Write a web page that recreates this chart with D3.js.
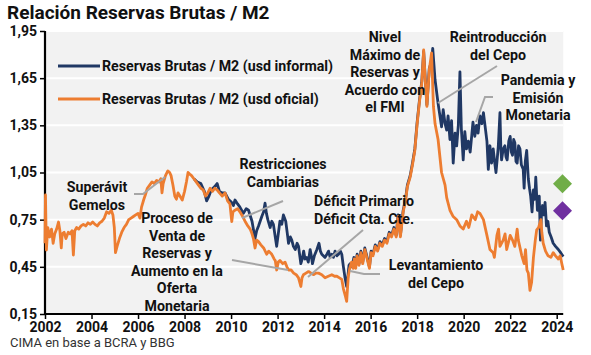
<!DOCTYPE html>
<html><head><meta charset="utf-8">
<script src="https://cdn.jsdelivr.net/npm/d3@7"></script>
<style>body{margin:0;background:#fff}svg{display:block}text{font-family:Roboto,"Liberation Sans",sans-serif}</style>
</head><body><svg id="c" width="591" height="355"></svg>
<script>
const yTicks = [0.15, 0.45, 0.75, 1.05, 1.35, 1.65, 1.95];
const xTicks = [2002, 2004, 2006, 2008, 2010, 2012, 2014, 2016, 2018, 2020, 2022, 2024];
const seriesNames = ["Reservas Brutas / M2 (usd informal)", "Reservas Brutas / M2 (usd oficial)"];

const offX = [2002.00,2002.02,2002.06,2002.12,2002.20,2002.28,2002.35,2002.42,2002.50,2002.58,2002.64,2002.70,2002.74,2002.82,2002.90,2003.00,2003.08,2003.16,2003.22,2003.28,2003.36,2003.45,2003.55,2003.65,2003.75,2003.85,2003.95,2004.05,2004.15,2004.25,2004.35,2004.45,2004.55,2004.65,2004.75,2004.85,2004.92,2004.98,2005.03,2005.10,2005.20,2005.30,2005.40,2005.50,2005.60,2005.70,2005.80,2005.90,2006.00,2006.08,2006.15,2006.25,2006.32,2006.40,2006.50,2006.60,2006.70,2006.80,2006.90,2006.98,2007.03,2007.08,2007.18,2007.28,2007.36,2007.42,2007.50,2007.58,2007.65,2007.72,2007.80,2007.90,2008.00,2008.08,2008.15,2008.22,2008.30,2008.40,2008.50,2008.60,2008.70,2008.80,2008.90,2009.00,2009.10,2009.20,2009.30,2009.40,
  2009.50,2009.62,2009.74,2009.85,2009.95,2010.03,2010.08,2010.17,2010.28,2010.38,2010.50,2010.60,2010.72,2010.82,2010.90,2010.96,2011.03,2011.10,2011.18,2011.28,2011.40,2011.53,2011.62,2011.75,2011.85,2011.90,2011.96,2012.03,2012.10,2012.22,2012.32,2012.40,2012.47,2012.58,2012.69,2012.80,2012.90,2013.00,2013.05,2013.11,2013.22,2013.33,2013.44,2013.54,2013.65,2013.76,2013.90,2014.04,2014.18,2014.33,2014.45,2014.55,2014.66,2014.76,2014.83,2014.92,2014.97,2015.04,2015.10,2015.18,
  2015.25,2015.30,2015.36,2015.42,2015.50,2015.58,2015.66,2015.75,2015.85,2015.95,2016.02,2016.10,2016.20,2016.30,2016.40,2016.50,2016.60,2016.70,2016.80,2016.90,2017.00,2017.10,2017.18,2017.28,2017.40,2017.50,2017.58,2017.70,2017.80,2017.90,2018.00,2018.10,2018.20,2018.28,2018.34,2018.42,2018.52,2018.62,
  2018.70,2018.77,2018.90,2019.05,2019.20,2019.27,2019.41,2019.55,2019.70,2019.84,2019.98,2020.12,2020.22,2020.35,2020.50,2020.60,2020.70,2020.85,2021.00,2021.13,2021.27,2021.32,2021.43,2021.50,2021.56,2021.70,2021.78,2021.85,2022.00,2022.10,2022.20,2022.30,2022.35,2022.50,2022.60,2022.66,2022.72,2022.78,2022.85,2022.92,2023.00,2023.08,2023.14,2023.22,2023.32,2023.36,2023.42,2023.52,2023.63,2023.75,2023.85,2023.95,2024.07,2024.15,2024.22,2024.28];
const offY = [0.60,0.907,0.557,0.70,0.64,0.69,0.60,0.66,0.69,0.735,0.68,0.57,0.66,0.67,0.63,0.67,0.66,0.68,0.525,0.68,0.70,0.69,0.71,0.72,0.71,0.73,0.72,0.735,0.72,0.71,0.73,0.74,0.76,0.80,0.79,0.81,0.78,0.70,0.54,0.58,0.63,0.67,0.70,0.72,0.75,0.76,0.77,0.78,0.79,0.76,0.83,0.88,0.91,0.95,0.97,0.99,0.98,1.00,0.99,1.01,0.92,0.98,1.03,1.06,1.05,1.03,0.97,0.90,0.88,0.92,0.90,0.875,0.93,0.99,1.05,1.04,1.03,1.01,0.99,0.97,0.95,0.94,0.90,0.92,0.95,0.93,0.95,0.94,
  0.92,0.90,0.92,0.87,0.85,0.737,0.80,0.81,0.82,0.80,0.77,0.74,0.71,0.69,0.66,0.63,0.57,0.62,0.61,0.59,0.57,0.53,0.55,0.53,0.50,0.49,0.43,0.48,0.49,0.47,0.48,0.45,0.43,0.43,0.41,0.40,0.38,0.325,0.38,0.40,0.41,0.42,0.41,0.40,0.41,0.41,0.40,0.38,0.39,0.40,0.39,0.39,0.38,0.37,0.31,0.26,0.23,0.39,0.44,0.48,
  0.44,0.50,0.44,0.52,0.46,0.54,0.47,0.56,0.50,0.44,0.54,0.52,0.58,0.55,0.60,0.58,0.62,0.60,0.66,0.64,0.69,0.64,0.77,0.64,0.80,0.87,0.96,1.02,1.10,1.19,1.36,1.50,1.62,1.83,1.66,1.47,1.70,1.81,
  1.47,1.36,1.26,1.05,0.97,0.89,0.81,0.77,0.75,0.71,0.69,0.74,0.70,0.78,0.75,0.80,0.79,0.75,0.65,0.56,0.54,0.51,0.65,0.69,0.58,0.62,0.66,0.56,0.65,0.62,0.58,0.69,0.62,0.52,0.47,0.56,0.43,0.41,0.30,0.35,0.51,0.62,0.685,0.70,0.75,0.67,0.60,0.55,0.52,0.51,0.54,0.52,0.50,0.52,0.47,0.43];

const infX = [2008.40,2008.55,2008.70,2008.85,2008.95,2009.05,2009.15,2009.30,2009.40,
  2009.50,2009.62,2009.74,2009.88,2010.02,2010.10,2010.17,2010.28,2010.38,2010.53,2010.65,2010.75,2010.90,2011.03,2011.10,2011.18,2011.32,2011.40,2011.46,2011.52,2011.58,2011.68,2011.75,2011.82,2011.90,2011.96,2012.03,2012.10,2012.18,2012.25,2012.35,2012.42,2012.47,2012.55,2012.61,2012.68,2012.76,2012.84,2012.90,2013.00,2013.06,2013.12,2013.18,2013.25,2013.32,2013.40,2013.45,2013.50,2013.58,2013.69,2013.78,2013.84,2013.90,2014.04,2014.12,2014.19,2014.26,2014.33,2014.40,2014.47,2014.55,2014.62,2014.70,2014.76,2014.83,2014.90,2014.97,2015.03,2015.07,2015.12,
  2015.20,2015.28,2015.35,2015.42,2015.50,2015.58,2015.66,2015.75,2015.85,2015.95,2016.02,2016.10,2016.20,2016.30,2016.40,2016.50,2016.60,2016.70,2016.80,2016.90,2017.00,2017.10,2017.18,2017.28,2017.40,2017.50,2017.58,2017.70,2017.80,2017.90,2018.00,2018.10,2018.20,2018.28,2018.34,2018.42,
  2018.52,2018.62,2018.67,2018.77,2018.90,2019.05,2019.12,2019.20,2019.27,2019.33,2019.41,2019.48,2019.55,2019.63,2019.70,2019.77,2019.84,2019.90,2019.98,2020.05,2020.12,2020.20,2020.28,2020.35,2020.40,2020.48,2020.55,2020.62,2020.70,2020.78,2020.85,2020.90,2021.00,2021.06,2021.13,2021.20,2021.27,2021.33,2021.39,2021.45,2021.49,2021.56,2021.60,2021.63,2021.70,2021.77,2021.82,2021.87,2021.94,2022.00,2022.05,2022.10,2022.15,2022.20,2022.25,2022.30,2022.36,2022.42,2022.48,2022.56,2022.60,2022.65,2022.71,2022.78,2022.83,2022.88,2022.94,2023.00,2023.06,2023.10,2023.17,2023.25,2023.30,2023.35,2023.39,2023.45,2023.50,2023.56,2023.62,2023.68,2023.76,2023.85,2023.95,2024.07,2024.17,2024.28];
const infY = [1.01,0.99,0.98,0.93,0.87,0.90,0.94,0.96,0.98,
  0.93,0.92,0.92,0.88,0.86,0.84,0.875,0.85,0.83,0.79,0.82,0.81,0.74,0.63,0.68,0.71,0.77,0.80,0.855,0.79,0.75,0.70,0.74,0.72,0.64,0.58,0.66,0.74,0.72,0.78,0.74,0.66,0.60,0.64,0.62,0.58,0.56,0.60,0.58,0.47,0.50,0.55,0.50,0.51,0.48,0.56,0.52,0.47,0.52,0.56,0.60,0.55,0.53,0.51,0.53,0.55,0.51,0.53,0.51,0.55,0.52,0.53,0.55,0.53,0.45,0.38,0.325,0.40,0.46,0.47,
  0.45,0.51,0.45,0.53,0.47,0.55,0.48,0.57,0.51,0.45,0.55,0.53,0.59,0.56,0.61,0.59,0.63,0.61,0.67,0.65,0.70,0.65,0.78,0.65,0.81,0.88,0.97,1.03,1.11,1.20,1.37,1.51,1.63,1.82,1.67,1.48,
  1.71,1.76,1.84,1.64,1.49,1.34,1.45,1.36,1.32,1.41,1.26,1.38,1.11,1.30,1.22,1.35,1.69,1.33,1.13,1.31,1.20,1.25,1.18,1.29,1.37,1.28,1.35,1.30,1.41,1.36,1.43,1.37,1.25,1.07,1.22,1.11,1.20,1.12,1.05,1.15,1.22,1.43,1.20,1.13,1.20,1.22,1.15,1.13,1.25,1.28,1.18,1.16,1.26,1.24,1.12,1.11,1.22,1.20,1.10,1.07,0.95,1.12,1.19,1.01,0.95,0.90,0.80,0.94,0.88,1.02,0.81,0.90,0.62,0.80,0.84,0.78,0.86,0.71,0.74,0.67,0.64,0.60,0.58,0.56,0.54,0.515];

const markerX = [2024.25, 2024.25];
const markerY = [0.979, 0.807];
const markerColors = ["#70ad47", "#7030a0"];

const svg = d3.select("#c");
const x = d3.scaleLinear().domain([2002, 2024]).range([45, 556.7]);
const y = d3.scaleLinear().domain([0.15, 1.95]).range([314, 31]);
const xEnd = x(2024.28);

svg.append("rect").attr("x", 45).attr("y", y(1.95)).attr("width", xEnd - 45).attr("height", y(0.15) - y(1.95)).attr("fill", "#f2f2f2");
svg.append("g").selectAll("line").data(yTicks.slice(1)).join("line")
  .attr("x1", 45).attr("x2", xEnd).attr("y1", d => y(d)).attr("y2", d => y(d))
  .attr("stroke", "#fff").attr("stroke-width", 2);

const fmt = d => d.toFixed(2).replace(".", ",");
const yAxis = svg.append("g").attr("transform", "translate(45,0)")
  .call(d3.axisLeft(y).tickValues(yTicks).tickFormat(fmt).tickSize(5).tickPadding(3));
const xAxis = svg.append("g").attr("transform", "translate(0,314)")
  .call(d3.axisBottom(x).tickValues(xTicks).tickFormat(d3.format("d")).tickSize(5).tickPadding(3));
[yAxis, xAxis].forEach(g => {
  g.select(".domain").attr("stroke", "#000").attr("stroke-width", 2.2);
  g.selectAll(".tick line").attr("stroke", "#000").attr("stroke-width", 1.5);
  g.selectAll("text").attr("fill", "#111").attr("font-size", 14).attr("font-weight", "bold").attr("font-family", "Roboto");
});
xAxis.select(".domain").attr("d", `M45,0H${xEnd}`);
yAxis.select(".domain").attr("d", `M0,${y(1.95)}V${y(0.15)}`);

const line = d3.line().x(d => x(d[0])).y(d => y(d[1]));
const infData = d3.zip(infX, infY);
const offData = d3.zip(offX, offY);
svg.append("path").datum(infData).attr("d", line).attr("fill", "none").attr("stroke", "#203864").attr("stroke-width", 2.8).attr("stroke-linejoin", "round");
svg.append("path").datum(offData).attr("d", line).attr("fill", "none").attr("stroke", "#ed7d31").attr("stroke-width", 2.8).attr("stroke-linejoin", "round");

svg.append("g").selectAll("path").data(d3.zip(markerX, markerY, markerColors)).join("path")
  .attr("d", d3.symbol(d3.symbolDiamond2, 230))
  .attr("transform", d => `translate(${x(d[0])},${y(d[1])})`).attr("fill", d => d[2]);

// legend
const legColors = ["#203864", "#ed7d31"];
const leg = svg.append("g");
seriesNames.forEach((n, i) => {
  const ly = 66 + i * 33;
  leg.append("line").attr("x1", 58).attr("x2", 100).attr("y1", ly).attr("y2", ly).attr("stroke", legColors[i]).attr("stroke-width", 3);
  leg.append("text").attr("x", 102).attr("y", ly + 5).text(n).attr("font-size", 14.2).attr("font-weight", "bold").attr("fill", "#111");
});

// annotations
const notes = [
  {lines: ["Superávit", "Gemelos"], cx: 97, y0: 192, path: [[134,194],[143,194],[165,177]]},
  {lines: ["Proceso de", "Venta de", "Reservas y", "Aumento en la", "Oferta", "Monetaria"], cx: 177, y0: 223, path: [[232,260],[288,270]]},
  {lines: ["Restricciones", "Cambiarias"], cx: 283, y0: 169, path: [[283,201],[242,218]]},
  {lines: ["Déficit Primario", "Déficit Cta. Cte."], cx: 364, y0: 206, path: [[363,230],[308,277]]},
  {lines: ["Levantamiento", "del Cepo"], cx: 436, y0: 270, path: [[350,271],[364,274],[380,274]]},
  {lines: ["Nivel", "Máximo de", "Reservas y", "Acuerdo con", "el FMI"], cx: 385, y0: 42, path: null},
  {lines: ["Reintroducción", "del Cepo"], cx: 498, y0: 42, path: [[497,66],[438,103]]},
  {lines: ["Pandemia y", "Emisión", "Monetaria"], cx: 538, y0: 85, path: [[493,97],[485,97],[476,122]]}
];
const ann = svg.append("g");
notes.forEach(n => {
  if (n.path) ann.append("path").attr("d", d3.line()(n.path)).attr("fill", "none").attr("stroke", "#a6a6a6").attr("stroke-width", 2);
  n.lines.forEach((t, i) => {
    ann.append("text").attr("x", n.cx).attr("y", n.y0 + i * 17.5).attr("text-anchor", "middle")
      .attr("font-size", 14.2).attr("font-weight", "bold").attr("fill", "#111").text(t);
  });
});

svg.append("text").attr("x", 7).attr("y", 18.5).text("Relación Reservas Brutas / M2").attr("font-size", 19).attr("font-weight", "bold").attr("fill", "#111");
svg.append("text").attr("x", 10).attr("y", 347).text("CIMA en base a BCRA y BBG").attr("font-size", 13).attr("fill", "#333");
</script></body></html>
